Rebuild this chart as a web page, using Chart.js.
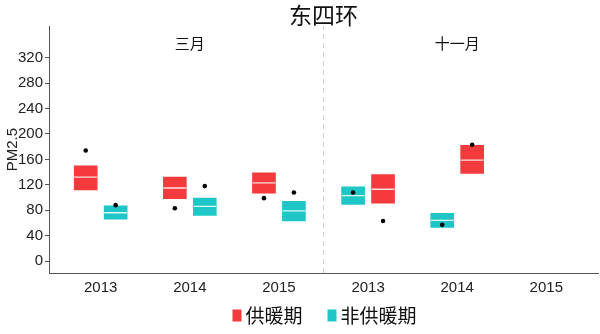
<!DOCTYPE html>
<html><head><meta charset="utf-8">
<script src="https://cdn.jsdelivr.net/npm/chart.js@4"></script>
<style>html,body{margin:0;padding:0;background:#fff;overflow:hidden}canvas{display:block}</style>
</head><body><canvas id="c" width="600" height="334"></canvas>
<script>
// categories
const years = ['2013', '2014', '2015', '2013', '2014', '2015'];
const panels = ['三月', '十一月'];
const seriesNames = ['供暖期', '非供暖期'];
// 供暖期 box stats (lower hinge, median, upper hinge, outlier); null = no data
const heatLow  = [112,  98, 107,  91, 138, null];
const heatMed  = [132, 115, 123, 113, 159, null];
const heatHigh = [150, 132, 139, 136, 182, null];
const heatDots = [174,  83,  99,  63, 183, null];
// 非供暖期 box stats
const nonLow   = [ 66,  72,  63,  89,  53, null];
const nonMed   = [ 76,  86,  79, 103,  64, null];
const nonHigh  = [ 87,  99,  94, 117,  75, null];
const nonDots  = [ 88, 118, 108, 108,  57, null];
// which side 供暖期 is dodged to in each slot (-1 left, +1 right)
const heatSide = [-1, -1, -1, 1, 1, 1];
const yTicks = [0, 40, 80, 120, 160, 200, 240, 280, 320];

const DODGE = 0.168, Y_MIN = -18.8, Y_MAX = 369.7, X_MIN = 0.42, X_MAX = 6.58;
const RED = '#f43a3c', CYAN = '#1ec6c8';

function boxes(lo, hi, side) {
  const out = [];
  lo.forEach((v, i) => { if (v != null) out.push({x: i + 1 + side * heatSide[i] * DODGE, y: [v, hi[i]]}); });
  return out;
}
function pts(vals, side) {
  const out = [];
  vals.forEach((v, i) => { if (v != null) out.push({x: i + 1 + side * heatSide[i] * DODGE, y: v}); });
  return out;
}

const facetLabels = {
  id: 'facetLabels',
  afterDatasetsDraw(chart) {
    const {ctx, scales: {x}, chartArea} = chart;
    ctx.save();
    ctx.font = '15px "Noto Sans CJK SC"';
    ctx.fillStyle = '#111';
    ctx.textAlign = 'center';
    ctx.textBaseline = 'middle';
    panels.forEach((p, k) => ctx.fillText(p, x.getPixelForValue(2 + 3 * k), chartArea.top + 17));
    ctx.restore();
  }
};

// legend drawn from the bar datasets' labels and colours, centred under the plot
const boxLegend = {
  id: 'boxLegend',
  afterDraw(chart) {
    const {ctx, chartArea} = chart;
    const items = chart.data.datasets.filter(d => d.isSeries);
    ctx.save();
    ctx.font = '19px "Noto Sans CJK SC"';
    ctx.textBaseline = 'middle';
    const bw = 9, bh = 12, tg = 4, ig = 25;
    const widths = items.map(d => bw + tg + ctx.measureText(d.label).width);
    const total = widths.reduce((a, b) => a + b, 0) + ig * (items.length - 1);
    let x = (chartArea.left + chartArea.right) / 2 + 1 - total / 2;
    const cy = 315.5;
    items.forEach((d, i) => {
      ctx.fillStyle = d.backgroundColor;
      ctx.fillRect(x, cy - bh / 2, bw, bh);
      ctx.fillStyle = '#111';
      ctx.fillText(d.label, x + bw + tg, cy);
      x += widths[i] + ig;
    });
    ctx.restore();
  }
};

new Chart(document.getElementById('c'), {
  type: 'bar',
  data: {
    datasets: [
      {label: '', type: 'line', data: [{x: 3.5, y: Y_MIN}, {x: 3.5, y: Y_MAX}], borderColor: '#cfcfcf', borderDash: [5, 4], borderWidth: 1, pointRadius: 0, order: 5},
      {label: seriesNames[0], isSeries: true, data: boxes(heatLow, heatHigh, 1), backgroundColor: RED, barThickness: 23, grouped: false, order: 4},
      {label: seriesNames[1], isSeries: true, data: boxes(nonLow, nonHigh, -1), backgroundColor: CYAN, barThickness: 23, grouped: false, order: 4},
      {label: '', type: 'scatter', data: pts(heatMed, 1).concat(pts(nonMed, -1)), pointStyle: 'line', pointRadius: 11.5, borderColor: 'rgba(255,255,255,0.85)', borderWidth: 1.3, order: 2},
      {label: '', type: 'scatter', data: pts(heatDots, 1).concat(pts(nonDots, -1)), pointRadius: 2.3, backgroundColor: '#000', borderColor: '#000', borderWidth: 0, order: 1}
    ]
  },
  options: {
    responsive: false, animation: false, devicePixelRatio: 1,
    layout: {autoPadding: false, padding: {left: 0, right: 2, top: 0, bottom: 37}},
    plugins: {
      title: {display: true, text: '东四环', fullSize: false, color: '#111',
        font: {family: '"Noto Sans CJK SC"', size: 23, weight: 'normal', lineHeight: 0.92}, padding: {top: 5, bottom: 0}},
      legend: {display: false},
      tooltip: {enabled: false}
    },
    scales: {
      x: {type: 'linear', min: X_MIN, max: X_MAX, offset: false,
        grid: {display: false, drawTicks: false},
        border: {display: true, color: '#555', width: 1},
        afterBuildTicks: s => { s.ticks = years.map((_, i) => ({value: i + 1})); },
        ticks: {autoSkip: false, maxRotation: 0, padding: 6, color: '#222', font: {family: '"Liberation Sans"', size: 15},
          callback: (v) => years[Math.round(v) - 1]},
        afterFit: s => { s.height = 24; s.paddingLeft = 0; s.paddingRight = 0; }
      },
      y: {type: 'linear', min: Y_MIN, max: Y_MAX,
        grid: {display: true, drawOnChartArea: false, drawTicks: true, tickLength: 4, color: '#555'},
        border: {display: true, color: '#555', width: 1},
        afterBuildTicks: s => { s.ticks = yTicks.map(v => ({value: v})); },
        ticks: {padding: 2, color: '#222', font: {family: '"Liberation Sans"', size: 15}},
        title: {display: true, text: 'PM2.5', color: '#222', font: {family: '"Liberation Sans"', size: 15}, padding: {top: 4, bottom: 0}},
        afterFit: s => { s.width = 49; s.paddingTop = 0; s.paddingBottom = 0; }
      }
    }
  },
  plugins: [facetLabels, boxLegend]
});
</script></body></html>
